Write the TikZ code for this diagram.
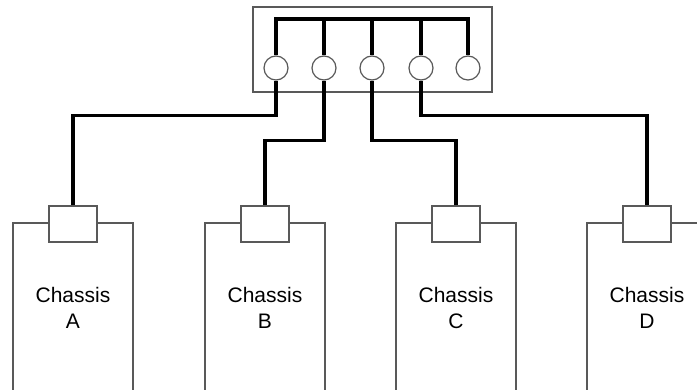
\documentclass[tikz,border=0pt]{standalone}
\usepackage{fontspec}
\setmainfont{Liberation Sans}

\begin{document}
\begin{tikzpicture}[x=0.5pt, y=-0.5pt,
		thin line/.style={draw=black!65, line width=0.6pt},
		cable/.style={line width=1.6pt, black},
		port/.style={circle, thin line, fill=white, minimum size=12pt, inner sep=0pt},
		plug/.style={rectangle, thin line, fill=white, minimum width=24pt, minimum height=18pt, inner sep=0pt},
		chassis/.style={rectangle, thin line, minimum width=60pt, minimum height=85pt, align=center, font=\fontsize{10.5}{12.7}\selectfont}]
			\useasboundingbox (0,0) rectangle (697,390);
			\clip (0,0) rectangle (697,390);
			
			% Hub with its five ports
			\node[rectangle, thin line, minimum width=119.5pt, minimum height=42.5pt] (hub) at (372.5,49.5) {};
			\node[port] (p1) at (276,68) {};
			\node[port] (p2) at (324,68) {};
			\node[port] (p3) at (372,68) {};
			\node[port] (p4) at (421,68) {};
			\node[port] (p5) at (468,68) {};
			\coordinate (bus) at (0,19);
			
			\draw[cable] (p1.north) -- (p1.north |- bus) -| (p5.north);
			\foreach \i in {2,3,4}
				\draw[cable] (p\i.north) -- (p\i.north |- bus);
			
			% Chassis and their plugs
			\node[chassis] (chA) at (73,308) {Chassis\\A};
			\node[chassis] (chB) at (265,308) {Chassis\\B};
			\node[chassis] (chC) at (456,308) {Chassis\\C};
			\node[chassis] (chD) at (647,308) {Chassis\\D};
			
			\node[plug] (plA) at (73,224) {};
			\node[plug] (plB) at (265,224) {};
			\node[plug] (plC) at (456,224) {};
			\node[plug] (plD) at (647,224) {};
			
			\draw[cable] (p1.south) -- ++(0,35) -| (plA.north);
			\draw[cable] (p2.south) -- ++(0,60) -| (plB.north);
			\draw[cable] (p3.south) -- ++(0,60) -| (plC.north);
			\draw[cable] (p4.south) -- ++(0,35) -| (plD.north);
		\end{tikzpicture}
\end{document}
